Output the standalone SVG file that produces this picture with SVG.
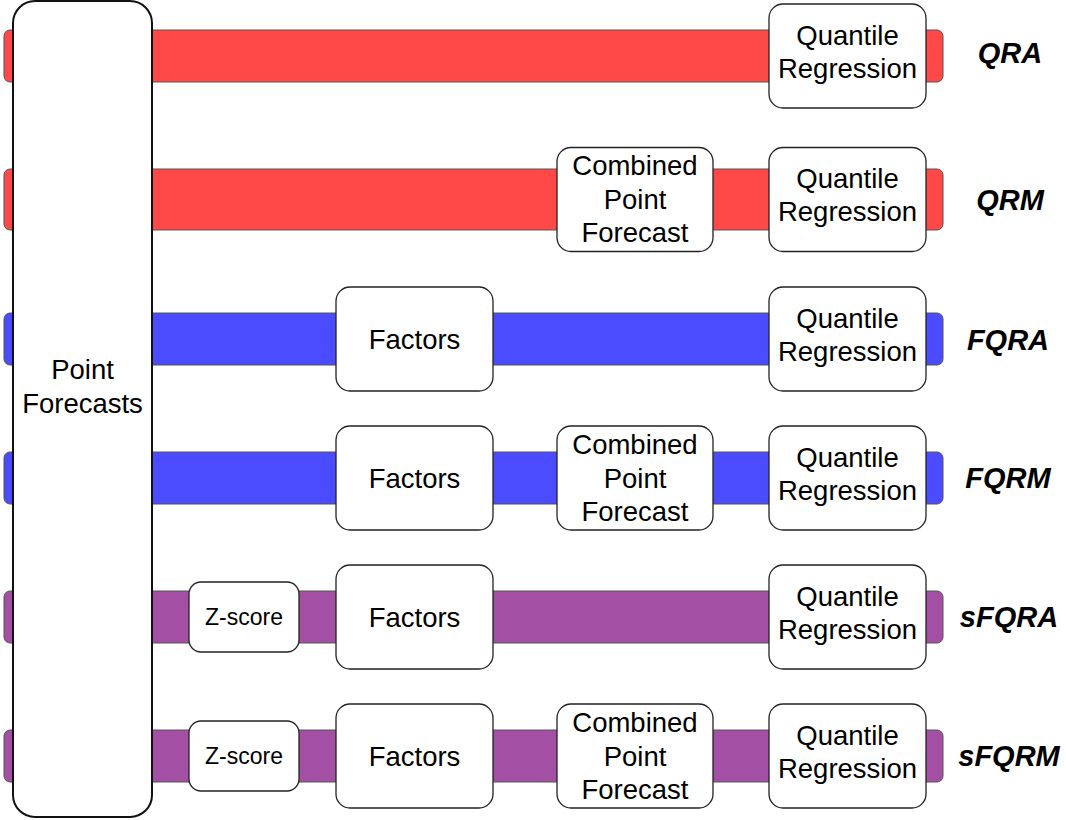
<svg xmlns="http://www.w3.org/2000/svg" width="1066" height="820" viewBox="0 0 1066 820">
<style>
.bar{stroke:#555;stroke-width:1}
.red{fill:#FF4848}
.blue{fill:#4B4BFF}
.purple{fill:#A34FA3}
.box{fill:#fff;stroke:#222;stroke-width:1.3}
.t{font-family:"Liberation Sans",Arial,sans-serif;font-size:27.5px;fill:#000;text-anchor:middle}
.z{font-family:"Liberation Sans",Arial,sans-serif;font-size:23px;fill:#000;text-anchor:middle}
.lbl{font-family:"Liberation Sans",Arial,sans-serif;font-size:29px;font-weight:bold;font-style:italic;fill:#000;text-anchor:middle}
</style>
<rect width="1066" height="820" fill="#fff"/>
<g id="connectors">
<rect class="bar red" x="4" y="30" width="939" height="52" rx="6"/>
<rect class="bar red" x="4" y="169" width="939" height="61" rx="6"/>
<rect class="bar blue" x="4" y="313" width="939" height="52" rx="6"/>
<rect class="bar blue" x="4" y="452" width="939" height="52" rx="6"/>
<rect class="bar purple" x="4" y="591" width="939" height="52" rx="6"/>
<rect class="bar purple" x="4" y="730" width="939" height="52" rx="6"/>
</g>
<g id="point-forecasts">
<rect x="13" y="1" width="139" height="816" rx="22" fill="#fff" stroke="#111" stroke-width="2"/>
<text class="t" x="82.5" y="379">Point</text>
<text class="t" x="82.5" y="413">Forecasts</text>
</g>
<g id="qra">
<rect class="box" x="769" y="4" width="157" height="104" rx="14"/>
<text class="t" x="847.5" y="44.5">Quantile</text>
<text class="t" x="847.5" y="77.5">Regression</text>
<text class="lbl" x="1010" y="63">QRA</text>
</g>
<g id="qrm">
<rect class="box" x="557" y="147.5" width="156" height="104" rx="14"/>
<text class="t" x="635" y="175">Combined</text>
<text class="t" x="635" y="209">Point</text>
<text class="t" x="635" y="242">Forecast</text>
<rect class="box" x="769" y="147.5" width="157" height="104" rx="14"/>
<text class="t" x="847.5" y="188">Quantile</text>
<text class="t" x="847.5" y="221">Regression</text>
<text class="lbl" x="1010" y="210">QRM</text>
</g>
<g id="fqra">
<rect class="box" x="336" y="287" width="157" height="104" rx="14"/>
<text class="t" x="414.5" y="349">Factors</text>
<rect class="box" x="769" y="287" width="157" height="104" rx="14"/>
<text class="t" x="847.5" y="327.5">Quantile</text>
<text class="t" x="847.5" y="360.5">Regression</text>
<text class="lbl" x="1008" y="350">FQRA</text>
</g>
<g id="fqrm">
<rect class="box" x="336" y="426" width="157" height="104" rx="14"/>
<text class="t" x="414.5" y="488">Factors</text>
<rect class="box" x="557" y="426" width="156" height="104" rx="14"/>
<text class="t" x="635" y="453.5">Combined</text>
<text class="t" x="635" y="487.5">Point</text>
<text class="t" x="635" y="520.5">Forecast</text>
<rect class="box" x="769" y="426" width="157" height="104" rx="14"/>
<text class="t" x="847.5" y="466.5">Quantile</text>
<text class="t" x="847.5" y="499.5">Regression</text>
<text class="lbl" x="1008" y="488">FQRM</text>
</g>
<g id="sfqra">
<rect class="box" x="189" y="582" width="110" height="70" rx="12"/>
<text class="z" x="244" y="625">Z-score</text>
<rect class="box" x="336" y="565" width="157" height="104" rx="14"/>
<text class="t" x="414.5" y="627">Factors</text>
<rect class="box" x="769" y="565" width="157" height="104" rx="14"/>
<text class="t" x="847.5" y="605.5">Quantile</text>
<text class="t" x="847.5" y="638.5">Regression</text>
<text class="lbl" x="1009" y="627">sFQRA</text>
</g>
<g id="sfqrm">
<rect class="box" x="189" y="721" width="110" height="70" rx="12"/>
<text class="z" x="244" y="764">Z-score</text>
<rect class="box" x="336" y="704" width="157" height="104" rx="14"/>
<text class="t" x="414.5" y="766">Factors</text>
<rect class="box" x="557" y="704" width="156" height="104" rx="14"/>
<text class="t" x="635" y="731.5">Combined</text>
<text class="t" x="635" y="765.5">Point</text>
<text class="t" x="635" y="798.5">Forecast</text>
<rect class="box" x="769" y="704" width="157" height="104" rx="14"/>
<text class="t" x="847.5" y="744.5">Quantile</text>
<text class="t" x="847.5" y="777.5">Regression</text>
<text class="lbl" x="1009" y="766">sFQRM</text>
</g>
</svg>
